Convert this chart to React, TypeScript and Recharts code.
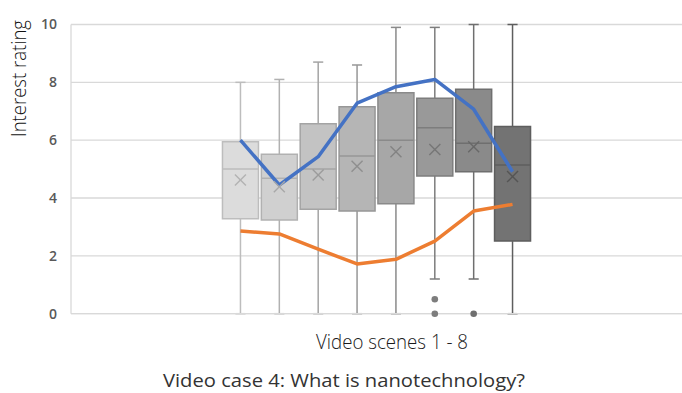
import React from 'react';
import {
  ComposedChart,
  XAxis,
  YAxis,
  CartesianGrid,
  Line,
  Scatter,
  ReferenceArea,
  ReferenceLine,
} from 'recharts';

// ---- data ----
const scenes = [1, 2, 3, 4, 5, 6, 7, 8];
const whiskerLow = [0, 0, 0, 0, 0, 1.2, 1.2, 0];
const q1 = [3.28, 3.24, 3.61, 3.55, 3.8, 4.76, 4.91, 2.51];
const median = [5.0, 4.68, 5.0, 5.45, 6.0, 6.43, 5.89, 5.14];
const q3 = [5.95, 5.51, 6.57, 7.16, 7.64, 7.45, 7.76, 6.47];
const whiskerHigh = [8.0, 8.1, 8.7, 8.6, 9.9, 9.9, 10, 10];
const means = [4.62, 4.39, 4.8, 5.1, 5.6, 5.68, 5.77, 4.74];
const blueSeries = [6.0, 4.45, 5.43, 7.28, 7.85, 8.1, 7.07, 4.91];
const orangeSeries = [2.86, 2.76, 2.23, 1.72, 1.88, 2.51, 3.55, 3.78];
const outlierScenes = [6, 6, 7];
const outlierValues = [0.5, 0, 0];
const yTicks = [0, 2, 4, 6, 8, 10];
const xLabel = 'Video scenes 1 - 8';
const yLabel = 'Interest rating';
const title = 'Video case 4: What is nanotechnology?';

// ---- styles ----
const boxFill = ['#dcdcdc', '#d0d0d0', '#c3c3c3', '#b5b5b5', '#a7a7a7', '#999999', '#8a8a8a', '#737373'];
const boxStroke = ['#bdbdbd', '#b1b1b1', '#a4a4a4', '#979797', '#8a8a8a', '#7d7d7d', '#6f6f6f', '#5e5e5e'];
const markColor = ['#b3b3b3', '#a8a8a8', '#9c9c9c', '#8f8f8f', '#838383', '#767676', '#686868', '#555555'];
const BOX_HALF = 0.463;
const CAP_HALF = 0.13;
const GRID = '#d9d9d9';

const lineData = scenes.map((s, i) => ({ x: s, blue: blueSeries[i], orange: orangeSeries[i] }));
const meanData = scenes.map((s, i) => ({ x: s, y: means[i], idx: i }));
const outlierData = outlierScenes.map((s, i) => ({ x: s, y: outlierValues[i], idx: s - 1 }));

const MeanMark = (props: any) => {
  const { cx, cy, payload } = props;
  if (cx == null || cy == null) return null;
  const c = markColor[payload.idx];
  const h = 5.5;
  return (
    <g>
      <line x1={cx - h} y1={cy - h} x2={cx + h} y2={cy + h} stroke={c} strokeWidth={1.4} />
      <line x1={cx - h} y1={cy + h} x2={cx + h} y2={cy - h} stroke={c} strokeWidth={1.4} />
    </g>
  );
};

const OutlierMark = (props: any) => {
  const { cx, cy, payload } = props;
  if (cx == null || cy == null) return null;
  return <circle cx={cx} cy={cy} r={3.3} fill={boxStroke[payload.idx]} />;
};

const XLabels = (props: any) => {
  const vb = props.viewBox || { x: 71, y: 314, width: 611, height: 79 };
  return (
    <g>
      <text
        x={392}
        y={vb.y + 35}
        textAnchor="middle"
        fontFamily="'Open Sans', sans-serif"
        fontWeight={300}
        fontSize={21}
        textLength={152}
        lengthAdjust="spacingAndGlyphs"
        fill="#1a1a1a"
      >
        {xLabel}
      </text>
      <text
        x={344}
        y={vb.y + 73}
        textAnchor="middle"
        fontFamily="'Open Sans', sans-serif"
        fontWeight={400}
        fontSize={19}
        textLength={362}
        lengthAdjust="spacingAndGlyphs"
        fill="#333"
      >
        {title}
      </text>
    </g>
  );
};

const YLabel = (props: any) => {
  const vb = props.viewBox || { x: 0, y: 24.5, width: 71, height: 289 };
  const x = vb.x + 26;
  const y = vb.y + 54;
  return (
    <text
      x={x}
      y={y}
      transform={`rotate(-90, ${x}, ${y})`}
      textAnchor="middle"
      fontFamily="'Open Sans', sans-serif"
      fontWeight={300}
      fontSize={20}
      textLength={117}
      lengthAdjust="spacingAndGlyphs"
      fill="#111"
    >
      {yLabel}
    </text>
  );
};

export default function App() {
  return (
    <div style={{ position: 'absolute', left: 0, top: 0, background: '#fff' }}>
      <ComposedChart
        width={682}
        height={393}
        data={lineData}
        margin={{ top: 24.5, right: 0, left: 0, bottom: 0 }}
      >
        <CartesianGrid vertical={false} stroke={GRID} strokeWidth={1.3} />
        <XAxis
          type="number"
          dataKey="x"
          domain={[-3.36, 12.36]}
          allowDataOverflow
          tick={false}
          tickLine={false}
          axisLine={{ stroke: GRID, strokeWidth: 1.3 }}
          height={79.3}
          label={<XLabels />}
        />
        <YAxis
          type="number"
          dataKey="y"
          domain={[0, 10]}
          ticks={yTicks}
          width={71}
          tickLine={false}
          tickMargin={8}
          axisLine={{ stroke: GRID, strokeWidth: 1.3 }}
          tick={{ fill: '#595959', fontSize: 14, fontWeight: 600, fontFamily: "'Open Sans', sans-serif" }}
          label={<YLabel />}
        />
        {scenes.map((s, i) => (
          <ReferenceLine
            key={`wl${s}`}
            segment={[{ x: s, y: whiskerLow[i] }, { x: s, y: q1[i] }]}
            stroke={boxStroke[i]}
            strokeWidth={1.5}
          />
        ))}
        {scenes.map((s, i) => (
          <ReferenceLine
            key={`wh${s}`}
            segment={[{ x: s, y: q3[i] }, { x: s, y: whiskerHigh[i] }]}
            stroke={boxStroke[i]}
            strokeWidth={1.5}
          />
        ))}
        {scenes.map((s, i) => (
          <ReferenceLine
            key={`cl${s}`}
            segment={[{ x: s - CAP_HALF, y: whiskerLow[i] }, { x: s + CAP_HALF, y: whiskerLow[i] }]}
            stroke={boxStroke[i]}
            strokeWidth={1.5}
          />
        ))}
        {scenes.map((s, i) => (
          <ReferenceLine
            key={`ch${s}`}
            segment={[{ x: s - CAP_HALF, y: whiskerHigh[i] }, { x: s + CAP_HALF, y: whiskerHigh[i] }]}
            stroke={boxStroke[i]}
            strokeWidth={1.5}
          />
        ))}
        {scenes.map((s, i) => (
          <ReferenceArea
            key={`box${s}`}
            x1={s - BOX_HALF}
            x2={s + BOX_HALF}
            y1={q1[i]}
            y2={q3[i]}
            fill={boxFill[i]}
            fillOpacity={1}
            stroke={boxStroke[i]}
            strokeWidth={1.5}
          />
        ))}
        {scenes.map((s, i) => (
          <ReferenceLine
            key={`med${s}`}
            segment={[{ x: s - BOX_HALF, y: median[i] }, { x: s + BOX_HALF, y: median[i] }]}
            stroke={boxStroke[i]}
            strokeWidth={1.5}
          />
        ))}
        <Scatter data={meanData} dataKey="y" shape={<MeanMark />} isAnimationActive={false} />
        <Scatter data={outlierData} dataKey="y" shape={<OutlierMark />} isAnimationActive={false} />
        <Line
          dataKey="orange"
          stroke="#ed7d31"
          strokeWidth={3.5}
          dot={false}
          activeDot={false}
          isAnimationActive={false}
          strokeLinejoin="round"
        />
        <Line
          dataKey="blue"
          stroke="#4472c4"
          strokeWidth={3.5}
          dot={false}
          activeDot={false}
          isAnimationActive={false}
          strokeLinejoin="round"
        />
      </ComposedChart>
    </div>
  );
}
